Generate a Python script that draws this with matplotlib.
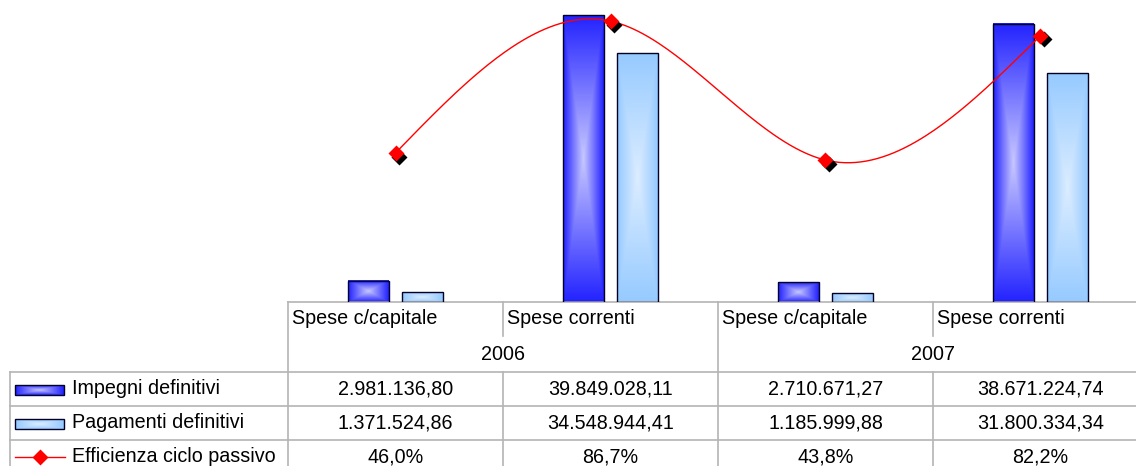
import numpy as np
import matplotlib
matplotlib.use("Agg")
from matplotlib import pyplot as plt
from matplotlib.patches import Rectangle
from matplotlib.transforms import offset_copy

plt.rcParams['font.family'] = ['Liberation Sans', 'DejaVu Sans']

categorie = ['Spese c/capitale', 'Spese correnti', 'Spese c/capitale', 'Spese correnti']
anni = ['2006', '2007']
impegni = [2981136.80, 39849028.11, 2710671.27, 38671224.74]
pagamenti = [1371524.86, 34548944.41, 1185999.88, 31800334.34]
efficienza = [46.0, 86.7, 43.8, 82.2]
serie = ['Impegni definitivi', 'Pagamenti definitivi', 'Efficienza ciclo passivo']

W, H = 1136, 466
GRID = '#b4b4b4'
FS = 14.2


def euro(v):
    s = f"{v:,.2f}"
    return s.replace(',', '#').replace('.', ',').replace('#', '.')


def perc(p):
    return f"{p:.1f}%".replace('.', ',')


def gradiente(edge, center, nx=60, ny=200):
    u = np.abs(np.linspace(-1, 1, nx))[None, :]
    v = np.abs(np.linspace(-1, 1, ny))[:, None]
    t = np.maximum(u, v)[..., None]
    e = np.array(matplotlib.colors.to_rgb(edge))
    c = np.array(matplotlib.colors.to_rgb(center))
    return c + (e - c) * t


def barra(ax, x0, w, h, edge, center, y0=0):
    img = gradiente(edge, center)
    ax.imshow(img, extent=(x0, x0 + w, y0, y0 + h), origin='lower',
              aspect='auto', interpolation='bilinear', zorder=2)
    ax.add_patch(Rectangle((x0, y0), w, h, fill=False, edgecolor='#000028',
                           linewidth=1.0, zorder=3))


SCURO = ('#2323ff', '#c8c8ff')
CHIARO = ('#96caff', '#dcedff')

fig = plt.figure(figsize=(W / 100, H / 100), dpi=100)

# area del grafico: asse x da -0.5 a 3.5 (215 px per categoria), base a y=302
ax = fig.add_axes([288 / W, (H - 302) / H, 860 / W, 324 / H])
x = np.arange(len(categorie))
bw = 0.19
for i in x:
    barra(ax, i - 0.125 - bw / 2, bw, impegni[i], *SCURO)
    barra(ax, i + 0.125 - bw / 2, bw, pagamenti[i], *CHIARO)
ax.set_xlim(-0.5, 3.5)
ax.set_ylim(0, 45e6)
for s in ['top', 'right', 'left']:
    ax.spines[s].set_visible(False)
ax.spines['bottom'].set_color(GRID)
ax.spines['bottom'].set_linewidth(1.2)
ax.set_xticks([])
ax.set_yticks([])
ax.patch.set_alpha(0)

# linea spline dell'efficienza
ax2 = ax.twinx()
ax2.set_ylim(0, 100)
ax2.set_xlim(-0.5, 3.5)
ax2.axis('off')
y = np.array(efficienza)
M = np.zeros(4)
A = np.array([[4.0, 1.0], [1.0, 4.0]])
b = 6 * np.array([y[2] - 2 * y[1] + y[0], y[3] - 2 * y[2] + y[1]])
M[1:3] = np.linalg.solve(A, b)
xs, ys = [], []
for i in range(3):
    t = np.linspace(i, i + 1, 80)
    s = (M[i] * (i + 1 - t) ** 3 / 6 + M[i + 1] * (t - i) ** 3 / 6
         + (y[i] - M[i] / 6) * (i + 1 - t) + (y[i + 1] - M[i + 1] / 6) * (t - i))
    xs.append(t)
    ys.append(s)
ax2.plot(np.concatenate(xs), np.concatenate(ys), color='#ff0000', lw=1.0, zorder=4)
ombra = offset_copy(ax2.transData, fig=fig, x=2.6, y=-2.6, units='points')
ax2.plot(x, y, 'D', ms=8.5, color='black', mec='none', transform=ombra, zorder=5)
ax2.plot(x, y, 'D', ms=8.5, color='#ff0000', mec='none', zorder=6)

# tabella dati in coordinate pixel
tb = fig.add_axes([0, 0, 1, 1])
tb.set_xlim(0, W)
tb.set_ylim(H, 0)
tb.axis('off')
tb.patch.set_alpha(0)

cols = [288 + 215 * i for i in range(5)]
righe = [372, 406, 440]
for yy in righe:
    tb.plot([10, W], [yy, yy], color=GRID, lw=1.2)
tb.plot([10, 10], [372, H], color=GRID, lw=1.2)
tb.plot([288, 288], [302, H], color=GRID, lw=1.2)
tb.plot([718, 718], [302, H], color=GRID, lw=1.2)
for xx in [503, 933]:
    tb.plot([xx, xx], [302, 336], color=GRID, lw=1.2)
    tb.plot([xx, xx], [372, H], color=GRID, lw=1.2)

for i, c in enumerate(categorie):
    tb.text(cols[i] + 4, 319, c, fontsize=FS, ha='left', va='center')
for j, a in enumerate(anni):
    tb.text(cols[2 * j + 1], 354, a, fontsize=FS, ha='center', va='center')

valori = [[euro(v) for v in impegni], [euro(v) for v in pagamenti],
          [perc(p) for p in efficienza]]
for r, riga in enumerate(valori):
    yc = righe[r] + 17
    tb.text(72, yc, serie[r], fontsize=FS, ha='left', va='center')
    for i, s in enumerate(riga):
        tb.text((cols[i] + cols[i + 1]) / 2, yc, s, fontsize=FS, ha='center', va='center')

# simboli della legenda
barra(tb, 15, 49, -10, *SCURO, y0=395)
barra(tb, 15, 49, -10, *CHIARO, y0=429)
tb.plot([15, 65], [457, 457], color='#ff0000', lw=1.0)
tb.plot([40], [457], 'D', ms=8.5, color='#ff0000', mec='none')
tb.set_xlim(0, W)
tb.set_ylim(H, 0)

fig.savefig('out.png', dpi=100)
